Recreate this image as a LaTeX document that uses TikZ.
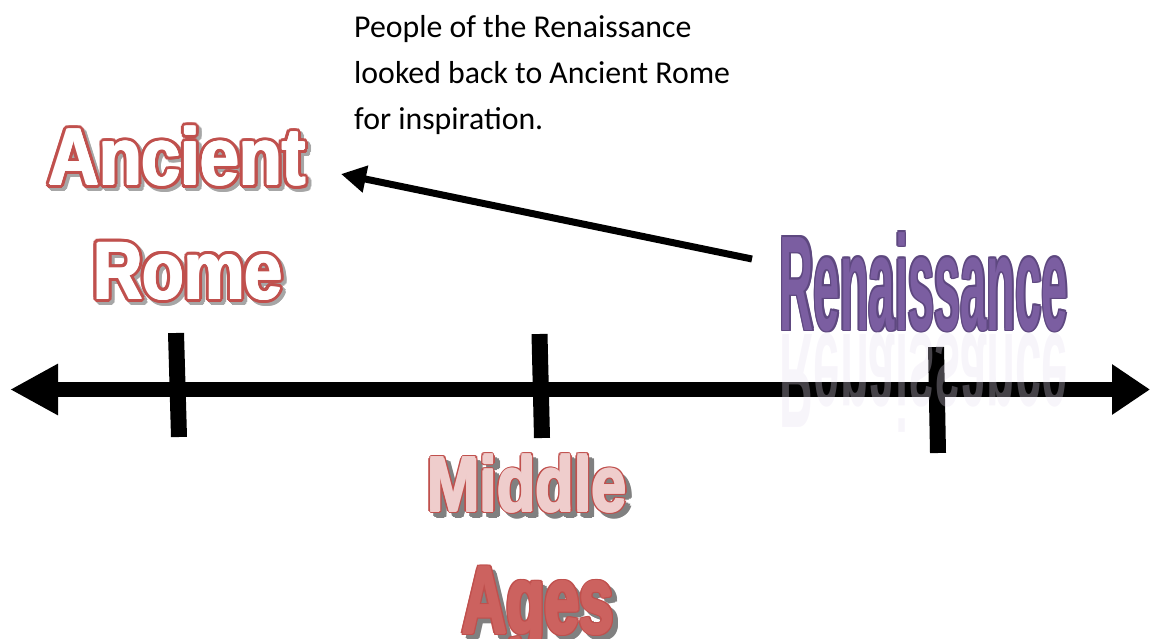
\documentclass[tikz,border=0pt]{standalone}
\usepackage{fontspec}
\newfontfamily\notefont{Carlito}
\newfontfamily\heavyfont{Liberation Sans}
\usetikzlibrary{arrows.meta}

\definecolor{romered}{HTML}{C0504D}
\definecolor{rimgray}{HTML}{A6A6A6}
\definecolor{dropgray}{HTML}{808080}
\definecolor{middlepink}{HTML}{EFCDCC}
\definecolor{agesred}{HTML}{CC625F}
\definecolor{renpurple}{HTML}{7B5EA1}
\definecolor{rendark}{HTML}{5E4880}
\definecolor{mirror}{HTML}{E6DDF0}

\tikzset{
  word/.style={anchor=base, inner sep=0pt, transform shape,
    font=\heavyfont\bfseries\fontsize{#1}{#1}\selectfont},
  note/.style={anchor=base west, inner sep=0pt,
    font=\notefont\fontsize{31.8}{46}\selectfont},
  timeline/.style={line width=15pt,
    {Triangle[length=48pt,width=48pt]}-{Triangle[length=38pt,width=48pt]}},
  tickmark/.style={line width=16pt},
  pointer/.style={line width=7pt, -{Triangle[length=25pt,width=26pt]}},
}

\begin{document}
\begin{tikzpicture}[x=1pt, y=-1pt]
  \useasboundingbox (0,0) rectangle (1151,639);

  % the note at the top
  \node[note] (note1) at (354,38) {People of the Renaissance};
  \node[note] (note2) at (354,84) {looked back to Ancient Rome};
  \node[note] (note3) at (354,130) {for inspiration.};

  % Ancient Rome: red outline, white inside, grey shadow
  \foreach \a in {0,20,...,340} {
    \node[word=70, yscale=1.15, text=rimgray] (ancs\a) at ([shift={(\a:4)}] 180,188) {Ancient};
    \node[word=68, yscale=1.2, text=rimgray] (roms\a) at ([shift={(\a:4)}] 191,302) {Rome};
  }
  \foreach \a in {0,20,...,340} {
    \node[word=70, yscale=1.15, text=romered] (ancr\a) at ([shift={(\a:4)}] 177,185) {Ancient};
    \node[word=68, yscale=1.2, text=romered] (romr\a) at ([shift={(\a:4)}] 188,299) {Rome};
  }
  \foreach \a in {0,60,...,300} {
    \node[word=70, yscale=1.15, text=white] (ancw\a) at ([shift={(\a:1)}] 177,185) {Ancient};
    \node[word=68, yscale=1.2, text=white] (romw\a) at ([shift={(\a:1)}] 188,299) {Rome};
  }
  \node[word=70, yscale=1.15, text=white] (ancient) at (177,185) {Ancient};
  \node[word=68, yscale=1.2, text=white] (rome) at (188,299) {Rome};

  % Middle Ages
  \foreach \a in {0,45,...,315} {
    \node[word=63, yscale=1.22, text=dropgray] (mids\a) at ([shift={(\a:2.5)}] 532,516) {Middle};
    \node[word=62, yscale=1.53, text=dropgray] (agss\a) at ([shift={(\a:2.5)}] 543,638) {Ages};
  }
  \foreach \a in {0,30,...,330} {
    \node[word=63, yscale=1.22, text=romered] (midr\a) at ([shift={(\a:2.5)}] 527,511) {Middle};
    \node[word=62, yscale=1.53, text=romered] (agsr\a) at ([shift={(\a:2.5)}] 538,633) {Ages};
  }
  \foreach \a in {0,60,...,300} {
    \node[word=63, yscale=1.22, text=middlepink] (midf\a) at ([shift={(\a:1.2)}] 527,511) {Middle};
    \node[word=62, yscale=1.53, text=agesred] (agsf\a) at ([shift={(\a:1.2)}] 538,633) {Ages};
  }
  \node[word=63, yscale=1.22, text=middlepink] (middle) at (527,511) {Middle};
  \node[word=62, yscale=1.53, text=agesred] (ages) at (538,633) {Ages};

  % Renaissance
  \foreach \a in {0,45,...,315}
    \node[word=70, xscale=0.673, yscale=1.93, text=rendark] (renr\a) at ([shift={(\a:1.5)}] 924,330) {Renaissance};
  \node[word=70, xscale=0.673, yscale=1.93, text=renpurple] (renaissance) at (924,330) {Renaissance};

  % time line
  \coordinate (west) at (10,389.5);
  \coordinate (east) at (1150,389.5);
  \draw[timeline] (west) -- (east);
  \coordinate (t1top) at (176,333);
  \coordinate (t1bot) at (179,437);
  \coordinate (t2top) at (539.5,334);
  \coordinate (t2bot) at (542,438);
  \coordinate (t3top) at (936,347);
  \coordinate (t3bot) at (938,453);
  \draw[tickmark] (t1top) -- (t1bot);
  \draw[tickmark] (t2top) -- (t2bot);
  \draw[tickmark] (t3top) -- (t3bot);

  % looking back
  \coordinate (back) at (752,259);
  \coordinate (rometip) at (341,174);
  \draw[pointer] (back) -- (rometip);

  % reflection of Renaissance
  \node[word=70, xscale=0.673, yscale=-1.93, text=mirror, text opacity=0.3] (renmirror) at (924,334) {Renaissance};
\end{tikzpicture}
\end{document}
